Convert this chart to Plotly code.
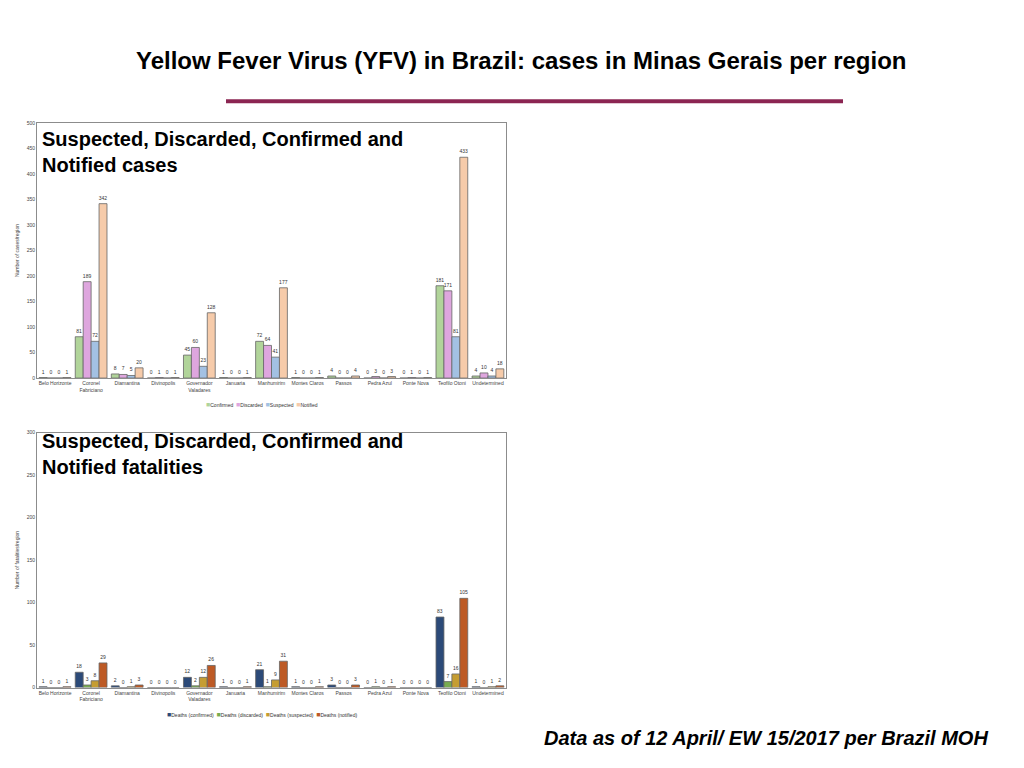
import plotly.graph_objects as go

regions = ['Belo Horizonte', 'Coronel<br>Fabriciano', 'Diamantina', 'Divinopolis',
           'Governador<br>Valadares', 'Januaria', 'Manhumirim', 'Montes Claros',
           'Passos', 'Pedra Azul', 'Ponte Nova', 'Teofilo Otoni', 'Undetermined']

# cases per region
confirmed = [1, 81, 8, 0, 45, 1, 72, 1, 4, 0, 0, 181, 4]
discarded = [0, 189, 7, 1, 60, 0, 64, 0, 0, 3, 1, 171, 10]
suspected = [0, 72, 5, 0, 23, 0, 41, 0, 0, 0, 0, 81, 4]
notified = [1, 342, 20, 1, 128, 1, 177, 1, 4, 3, 1, 433, 18]

# fatalities per region
d_confirmed = [1, 18, 2, 0, 12, 1, 21, 1, 3, 0, 0, 83, 1]
d_discarded = [0, 3, 0, 0, 2, 0, 1, 0, 0, 1, 0, 7, 0]
d_suspected = [0, 8, 1, 0, 12, 0, 9, 0, 0, 0, 0, 16, 1]
d_notified = [1, 29, 3, 0, 26, 1, 31, 1, 3, 1, 0, 105, 2]

# page has an 8px body margin, so work in screen pixels and shift
OFF = 8
W, H = 1024 - 2 * OFF, 768 - 2 * OFF
def px_x(v): return (v - OFF) / W
def px_y(v): return 1 - (v - OFF) / H

fig = go.Figure()

top = [('Confirmed', confirmed, '#b1d49a'), ('Discarded', discarded, '#dea6de'),
       ('Suspected', suspected, '#a3c1e3'), ('Notified', notified, '#f6cbaa')]
bot = [('Deaths (confirmed)', d_confirmed, '#2c4a78'), ('Deaths (discarded)', d_discarded, '#78ac50'),
       ('Deaths (suspected)', d_suspected, '#c59d32'), ('Deaths (notified)', d_notified, '#bd5a25')]

for name, vals, col in top:
    fig.add_trace(go.Bar(x=regions, y=vals, name=name, marker_color=col,
                         marker_line=dict(color='#666666', width=0.8),
                         text=vals, textposition='outside', cliponaxis=False,
                         textfont=dict(size=5, color='#333333'),
                         xaxis='x', yaxis='y', showlegend=False))
for name, vals, col in bot:
    fig.add_trace(go.Bar(x=regions, y=vals, name=name, marker_color=col,
                         marker_line=dict(color='#666666', width=0.8),
                         text=vals, textposition='outside', cliponaxis=False,
                         textfont=dict(size=5, color='#333333'),
                         xaxis='x2', yaxis='y2', showlegend=False))

ax = dict(showline=True, linecolor='#8c8c8c', linewidth=1, mirror=True,
          showgrid=False, zeroline=False, tickfont=dict(size=5, color='#444444'))

fig.update_layout(
    width=W, height=H, margin=dict(l=0, r=0, t=0, b=0),
    paper_bgcolor='white', plot_bgcolor='white',
    font=dict(family='Liberation Sans, Arial, sans-serif'),
    barmode='group', bargap=0.12, bargroupgap=0,
    uniformtext=dict(minsize=5, mode='show'),
    xaxis=dict(ax, domain=[px_x(37), px_x(506)], anchor='y', ticks=''),
    yaxis=dict(ax, domain=[px_y(378), px_y(121)], anchor='x', range=[0, 500],
               dtick=50, ticks='',
               title=dict(text='Number of cases/region', font=dict(size=5, color='#444444'), standoff=6)),
    xaxis2=dict(ax, domain=[px_x(37), px_x(506)], anchor='y2', ticks=''),
    yaxis2=dict(ax, domain=[px_y(690), px_y(433)], anchor='x2', range=[0, 300],
                dtick=50, ticks='',
                title=dict(text='Number of fatalities/region', font=dict(size=5, color='#444444'), standoff=6)),
    shapes=[dict(type='line', xref='paper', yref='paper', x0=px_x(226), x1=px_x(843),
                 y0=px_y(99), y1=px_y(99), line=dict(color='#8b2552', width=4))],
)

# compact legends like the original (coloured square + series name)
def legend_text(series):
    return '  '.join("<span style='color:%s;font-size:7px'>■</span>%s" % (c, n) for n, _, c in series)

fig.add_annotation(text=legend_text(top), xref='paper', yref='paper',
                   x=px_x(262), y=px_y(405), showarrow=False, xanchor='center', yanchor='middle',
                   font=dict(size=5, color='#333333'))
fig.add_annotation(text=legend_text(bot), xref='paper', yref='paper',
                   x=px_x(262), y=px_y(717), showarrow=False, xanchor='center', yanchor='middle',
                   font=dict(size=5, color='#333333'))

fig.add_annotation(text='<b>Yellow Fever Virus (YFV) in Brazil: cases in Minas Gerais per region</b>',
                   xref='paper', yref='paper', x=px_x(521), y=px_y(58), showarrow=False,
                   xanchor='center', yanchor='middle',
                   font=dict(family='Liberation Sans Narrow, Arial Narrow, Liberation Sans, sans-serif',
                             size=24, color='black'))
fig.add_annotation(text='<b>Suspected, Discarded, Confirmed and<br>Notified cases</b>',
                   xref='paper', yref='paper', x=px_x(40), y=px_y(124), showarrow=False,
                   xanchor='left', yanchor='top', align='left',
                   font=dict(size=20, color='black'))
fig.add_annotation(text='<b>Suspected, Discarded, Confirmed and<br>Notified fatalities</b>',
                   xref='paper', yref='paper', x=px_x(40), y=px_y(428), showarrow=False,
                   xanchor='left', yanchor='top', align='left',
                   font=dict(size=20, color='black'))
fig.add_annotation(text='<b><i>Data as of 12 April/ EW 15/2017 per Brazil MOH</i></b>',
                   xref='paper', yref='paper', x=px_x(990), y=px_y(741), showarrow=False,
                   xanchor='right', yanchor='middle',
                   font=dict(size=20, color='black'))

fig.write_html('out.html')
